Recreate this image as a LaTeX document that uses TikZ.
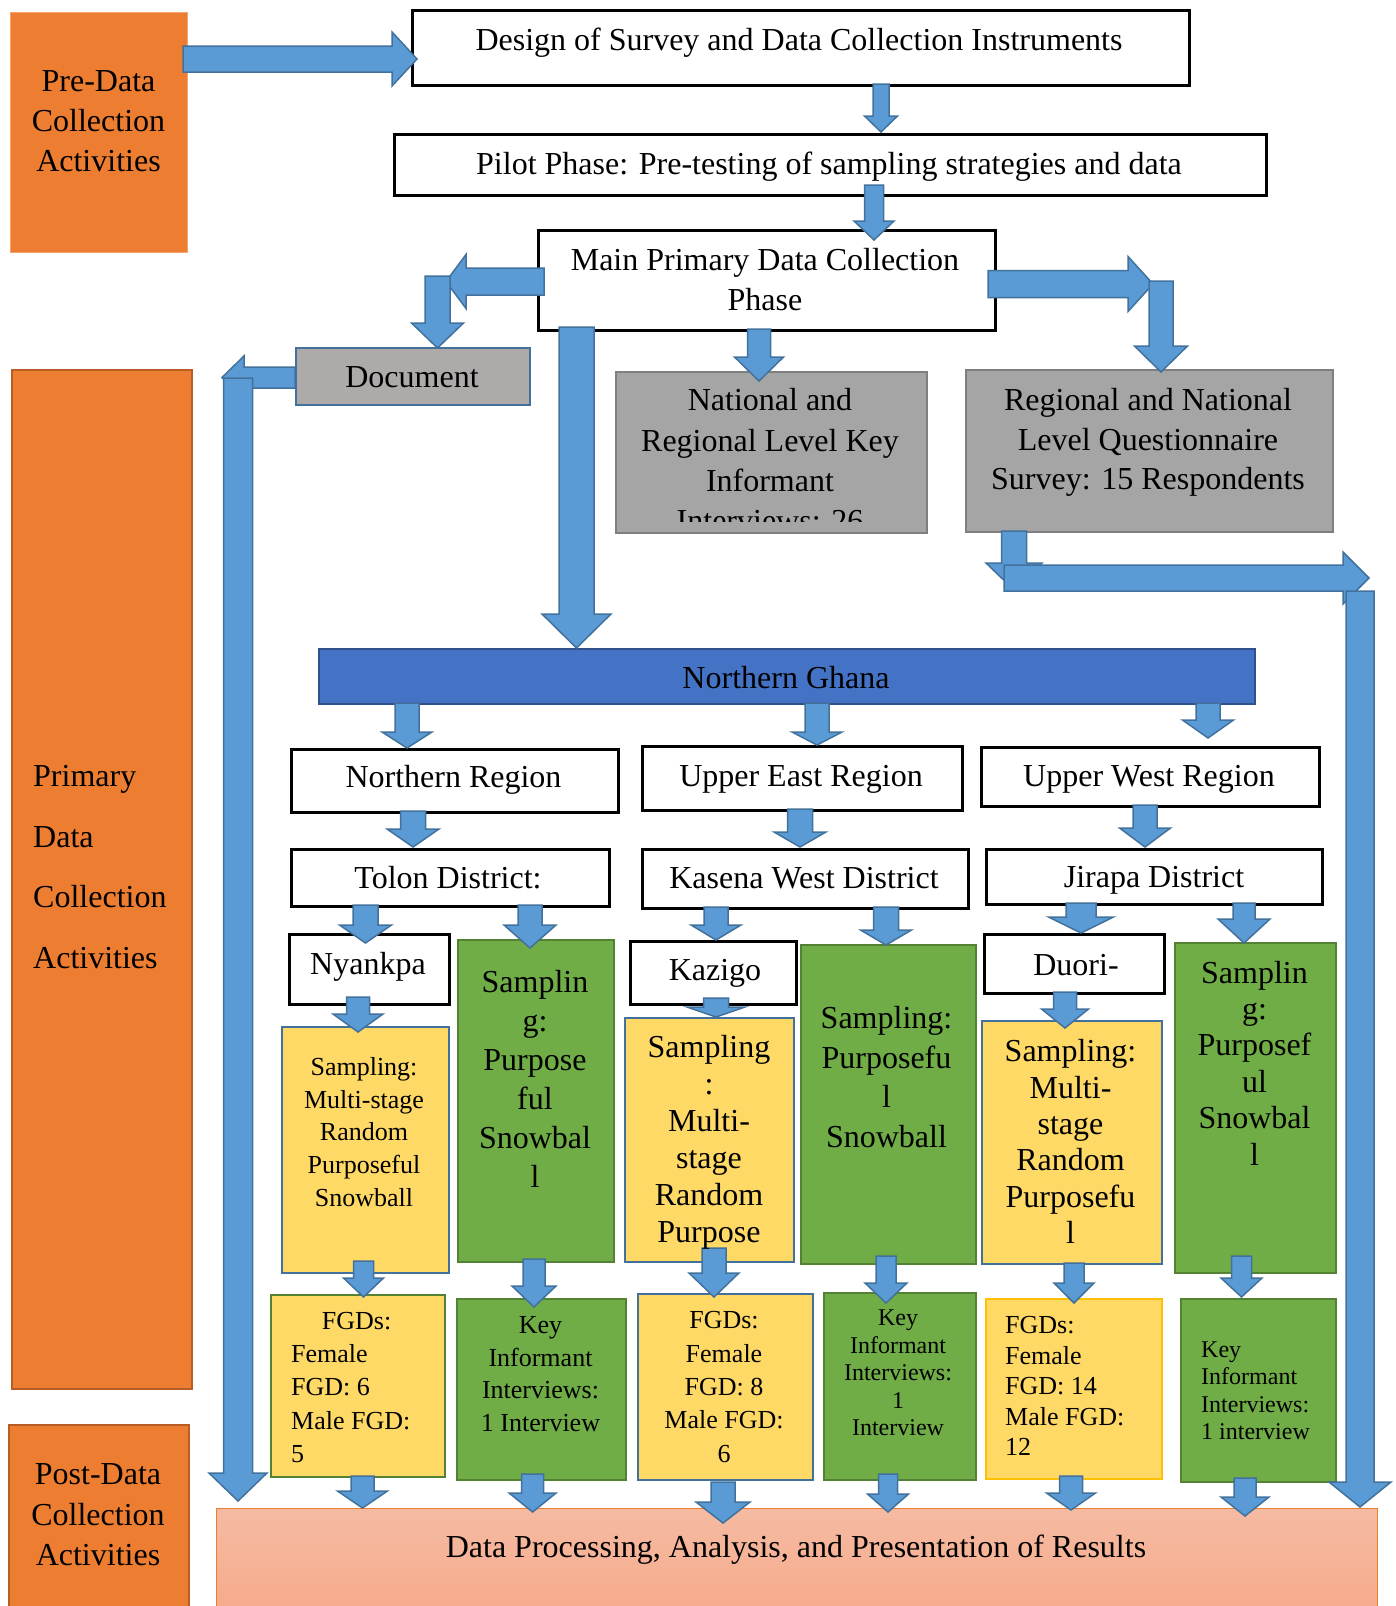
\documentclass[tikz,border=0pt]{standalone}
\usepackage{fontspec}
\setmainfont{Liberation Serif}
\definecolor{orfill}{HTML}{ED7D31}
\definecolor{orline}{HTML}{B85E24}
\definecolor{orlight}{HTML}{F4A46C}
\definecolor{afill}{HTML}{5B9BD5}
\definecolor{aline}{HTML}{41719C}
\definecolor{docgray}{HTML}{AEAAAA}
\definecolor{gfill}{HTML}{A5A5A5}
\definecolor{gline}{HTML}{7F7F7F}
\definecolor{ngfill}{HTML}{4472C4}
\definecolor{ngline}{HTML}{2F528F}
\definecolor{yfill}{HTML}{FFD966}
\definecolor{grfill}{HTML}{70AD47}
\definecolor{grline}{HTML}{548235}
\definecolor{gold}{HTML}{FFC000}
\definecolor{pinktop}{HTML}{F5BBA2}
\definecolor{pinkbot}{HTML}{F7A888}
\newcommand\fs[2]{\fontsize{#1pt}{#2pt}\selectfont}
% box: name, x1, y1, x2, y2, style
\newcommand\bx[6]{\node[#6, anchor=north west, inner sep=0pt, minimum width={#4-#2}, minimum height={#5-#3}] (#1) at (#2,#3) {};}
% down arrow: x, ytop, ytip, shaft w, head w, head len
\newcommand\darrow[6]{\draw[barrow] ({#1-#4/2},#2) -- ({#1+#4/2},#2) -- ({#1+#4/2},{#3-#6}) -- ({#1+#5/2},{#3-#6}) -- (#1,#3) -- ({#1-#5/2},{#3-#6}) -- ({#1-#4/2},{#3-#6}) -- cycle;}
% right arrow: y, xstart, xtip, shaft w, head w, head len
\newcommand\rarrow[6]{\draw[barrow] (#2,{#1-#4/2}) -- ({#3-#6},{#1-#4/2}) -- ({#3-#6},{#1-#5/2}) -- (#3,#1) -- ({#3-#6},{#1+#5/2}) -- ({#3-#6},{#1+#4/2}) -- (#2,{#1+#4/2}) -- cycle;}
% left arrow: y, xstart, xtip, shaft w, head w, head len
\newcommand\larrow[6]{\draw[barrow] (#2,{#1-#4/2}) -- ({#3+#6},{#1-#4/2}) -- ({#3+#6},{#1-#5/2}) -- (#3,#1) -- ({#3+#6},{#1+#5/2}) -- ({#3+#6},{#1+#4/2}) -- (#2,{#1+#4/2}) -- cycle;}
\tikzset{
  barrow/.style={fill=afill, draw=aline, line width=1.5pt, line join=miter},
  orbox/.style={fill=orfill, draw=orline, line width=1.5pt},
  wbox/.style={fill=white, draw=black, line width=2.5pt},
  docbox/.style={fill=docgray, draw=aline, line width=2pt},
  gbox/.style={fill=gfill, draw=gline, line width=2pt},
  ngbox/.style={fill=ngfill, draw=ngline, line width=2pt},
  ybox/.style={fill=yfill, draw=aline, line width=2pt},
  grbox/.style={fill=grfill, draw=grline, line width=2pt},
  pinkbox/.style={top color=pinktop, bottom color=pinkbot, draw=orfill, line width=1pt},
  txt/.style={inner sep=0pt, align=center, text=black},
  ltxt/.style={inner sep=0pt, align=left, anchor=west, text=black}
}
\begin{document}
\begin{tikzpicture}[x=1pt,y=-1pt,font=\fs{32}{40}]
\useasboundingbox (0,0) rectangle (1396,1606);
% ---- boxes ----
\bx{pre}{10}{12}{187}{252}{orbox, draw=orlight, line width=1pt}
\bx{prim}{11}{369}{191}{1388}{orbox}
\bx{post}{8}{1424}{188}{1625}{orbox}
\bx{design}{411}{9}{1188}{84}{wbox}
\bx{pilot}{393}{133}{1265}{194}{wbox}
\bx{main}{537}{229}{994}{329}{wbox}
\bx{doc}{295}{347}{529}{404}{docbox}
\bx{ki}{615}{371}{926}{532}{gbox}
\bx{q}{965}{369}{1332}{531}{gbox}
\bx{ng}{318}{648}{1254}{703}{ngbox}
\bx{nr}{290}{748}{617}{811}{wbox}
\bx{ue}{641}{745}{961}{809}{wbox}
\bx{uw}{980}{746}{1318}{805}{wbox}
\bx{tolon}{290}{848}{608}{905}{wbox}
\bx{kasena}{641}{848}{967}{907}{wbox}
\bx{jirapa}{985}{848}{1321}{903}{wbox}
\bx{nyankpa}{288}{933}{448}{1003}{wbox}
\bx{kazigo}{629}{940}{795}{1003}{wbox}
\bx{duori}{983}{933}{1163}{992}{wbox}
\bx{green1}{457}{939}{613}{1261}{grbox}
\bx{green2}{800}{944}{975}{1263}{grbox}
\bx{green3}{1174}{942}{1335}{1272}{grbox}
\bx{yel1}{281}{1026}{448}{1272}{ybox}
\bx{yel2}{624}{1017}{793}{1261}{ybox}
\bx{yel3}{981}{1020}{1161}{1263}{ybox}
\bx{fgd1}{270}{1294}{444}{1476}{ybox, draw=grline}
\bx{ki1}{456}{1298}{625}{1479}{grbox}
\bx{fgd2}{637}{1293}{812}{1479}{ybox}
\bx{ki2}{823}{1292}{975}{1479}{grbox}
\bx{fgd3}{985}{1298}{1161}{1478}{ybox, draw=gold}
\bx{ki3}{1180}{1298}{1335}{1481}{grbox}
\bx{pink}{216}{1508}{1377}{1625}{pinkbox}
% ---- block arrows ----
\rarrow{59}{183}{417}{26}{54}{25}
\darrow{881}{84}{132}{16}{33}{16}
\darrow{874}{185}{240}{19}{40}{19}
\larrow{281.5}{544}{446}{27}{54}{20}
\darrow{437.5}{276}{348}{25}{52}{25}
\darrow{576.5}{327}{648}{35}{69}{34}
\darrow{759}{329}{381}{23}{49}{24}
\rarrow{284}{988}{1153}{27}{55}{25}
\darrow{1161}{281}{372}{24}{53}{26}
\larrow{377.5}{295}{222}{21}{43}{22}
\darrow{238}{378}{1501}{29}{58}{28}
\darrow{1014}{531}{590}{25}{56}{27}
\rarrow{578}{1004}{1369}{26}{52}{26}
\darrow{1360}{591}{1507}{28}{62}{25}
\darrow{407}{703}{748}{24}{50}{16}
\darrow{817}{703}{745}{24}{50}{13}
\darrow{1208}{703}{738}{24}{51}{18}
\darrow{413}{811}{847}{25}{52}{18}
\darrow{800}{809}{847}{25}{52}{15}
\darrow{1145}{805}{847}{24}{51}{19}
\darrow{365.5}{905}{943}{25}{52}{18}
\darrow{530}{905}{948}{24}{52}{23}
\darrow{716}{907}{940}{24}{50}{15}
\darrow{886}{907}{945}{25}{51}{15}
\darrow{1081}{903}{933}{30}{65}{16}
\darrow{1244}{903}{943}{22}{52}{24}
\darrow{358}{997}{1032}{23}{50}{18}
\darrow{716}{998}{1017}{25}{58}{10}
\darrow{1065}{992}{1028}{23}{47}{19}
\darrow{363.5}{1261}{1297}{20}{40}{19}
\darrow{534}{1259}{1307}{22}{44}{21}
\darrow{714}{1248}{1297}{24}{50}{24}
\darrow{886}{1256}{1303}{20}{42}{20}
\darrow{1074}{1263}{1303}{20}{40}{20}
\darrow{1241.5}{1256}{1297}{20}{41}{19}
\darrow{362.5}{1476}{1508}{23}{50}{17}
\darrow{532.6}{1474}{1512}{22}{47}{19}
\darrow{723}{1482}{1523}{24}{54}{21}
\darrow{888}{1474}{1512}{19}{41}{18}
\darrow{1071}{1476}{1510}{23}{49}{17}
\darrow{1245}{1478}{1516}{22}{48}{19}
% ---- texts ----
\node[txt] (pre-t) at (98.5,121) {Pre-Data\\Collection\\Activities};
\node[ltxt, font=\fs{32}{60.5}] (prim-t) at (33,867) {Primary\\Data\\Collection\\Activities};
\node[txt, font=\fs{32}{40.5}] (post-t) at (98,1515) {Post-Data\\Collection\\Activities};
\node[txt] (design-t) at (799,43) {Design of Survey and Data Collection Instruments};
\node[txt] (pilot-t) at (829,167) {Pilot Phase: Pre-testing of sampling strategies and data};
\node[txt] (main-t) at (765,280) {Main Primary Data Collection\\Phase};
\node[txt] (doc-t) at (412,377) {Document};
\begin{scope}
\clip (615,371) rectangle (926,521.5);
\node[txt, font=\fs{32}{40.3}] (ki-t) at (770,460.5) {National and\\Regional Level Key\\Informant\\Interviews: 26};
\end{scope}
\node[txt, font=\fs{32}{39.5}] (q-t) at (1148,442.5) {Regional and National\\Level Questionnaire\\Survey: 15 Respondents};
\node[txt] (ng-t) at (786,678) {Northern Ghana};
\node[txt] (nr-t) at (453.5,780) {Northern Region};
\node[txt] (ue-t) at (801,779) {Upper East Region};
\node[txt] (uw-t) at (1149,779) {Upper West Region};
\node[txt] (tolon-t) at (448,878) {Tolon District:};
\node[txt] (kasena-t) at (804,878) {Kasena West District};
\node[txt] (jirapa-t) at (1154,880.5) {Jirapa District};
\node[txt] (nyankpa-t) at (368,967) {Nyankpa};
\node[txt] (kazigo-t) at (715,973) {Kazigo};
\node[txt] (duori-t) at (1076,965) {Duori-};
\node[txt, font=\fs{32}{39}] (green1-t) at (535,1078.5) {Samplin\\g:\\Purpose\\ful\\Snowbal\\l};
\node[txt, font=\fs{32}{39.7}] (green2-t) at (886.5,1077) {Sampling:\\Purposefu\\l\\Snowball};
\node[txt, font=\fs{32}{36.4}] (green3-t) at (1254.5,1063) {Samplin\\g:\\Purposef\\ul\\Snowbal\\l};
\node[txt, font=\fs{26}{32.8}] (yel1-t) at (364,1132) {Sampling:\\Multi-stage\\Random\\Purposeful\\Snowball};
\node[txt, font=\fs{32}{37}] (yel2-t) at (709,1142) {Sampling\\:\\Multi-\\stage\\Random\\Purpose};
\node[txt, font=\fs{32}{36.3}] (yel3-t) at (1070.5,1141.5) {Sampling:\\Multi-\\stage\\Random\\Purposefu\\l};
\node[ltxt, font=\fs{26}{33.3}] (fgd1-t) at (291,1387.5) {\hspace*{30.7pt}FGDs:\\Female\\FGD: 6\\Male FGD:\\5};
\node[txt, font=\fs{26}{32.7}] (ki1-t) at (540.5,1374) {Key\\Informant\\Interviews:\\1 Interview};
\node[txt, font=\fs{26}{33.3}] (fgd2-t) at (724,1387) {FGDs:\\Female\\FGD: 8\\Male FGD:\\6};
\node[txt, font=\fs{24}{27.5}] (ki2-t) at (898,1373) {Key\\Informant\\Interviews:\\1\\Interview};
\node[ltxt, font=\fs{26}{30.5}] (fgd3-t) at (1005,1386) {FGDs:\\Female\\FGD: 14\\Male FGD:\\12};
\node[ltxt, font=\fs{24}{27.5}] (ki3-t) at (1201,1390.5) {Key\\Informant\\Interviews:\\1 interview};
\node[txt] (pink-t) at (796,1550) {Data Processing, Analysis, and Presentation of Results};
\end{tikzpicture}
\end{document}
